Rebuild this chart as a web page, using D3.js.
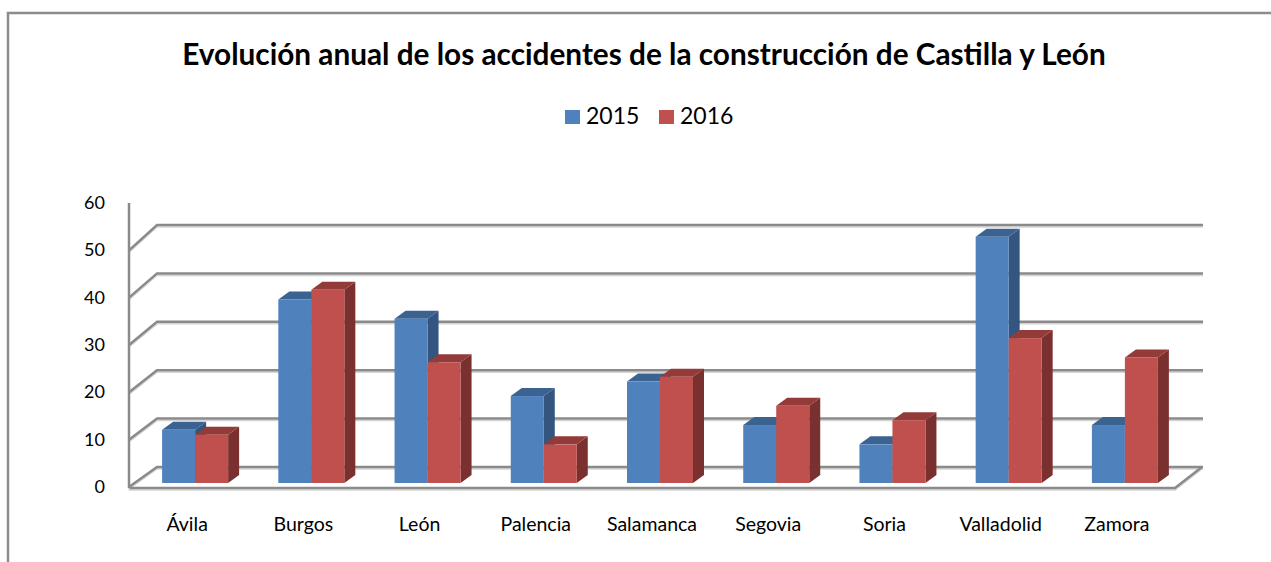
<!doctype html>
<html>
  <head>
    <meta charset="utf-8">
    <script src="https://cdn.jsdelivr.net/npm/d3@7/dist/d3.min.js"></script>
    <style>
      body {
          margin: 0;
          background: #fff;
          font-family: Lato, "Noto Sans", sans-serif;
      }
      .tick-label {
          font-size: 18px;
          fill: #000;
      }
      .cat-label {
          font-size: 19.5px;
          fill: #000;
      }
      .legend text {
          font-size: 23px;
      }
      .title {
          font-weight: bold;
          text-anchor: middle;
      }
    </style>
  </head>
  <body>
    <svg id="chart" width="1271" height="562"></svg>

    <script type="text/javascript">
        var provincias = ["Ávila", "Burgos", "León", "Palencia", "Salamanca", "Segovia", "Soria", "Valladolid", "Zamora"];
        var anios = ["2015", "2016"];
        var v2015 = [11, 38, 34, 18, 21, 12, 8, 51, 12];
        var v2016 = [10, 40, 25, 8, 22, 16, 13, 30, 26];
        var yTicks = [0, 10, 20, 30, 40, 50, 60];

        var svg = d3.select("#chart");

        // depth of the bars (fake 3d)
        var bdx = 11, bdy = -8;

        var x0 = d3.scaleBand().domain(provincias).range([129, 1175]);
        var x1 = d3.scaleBand().domain(anios).range([0, 66]);

        var yFront = d3.scaleLinear().domain([0, 60]).range([487, 203]);
        var yBack = d3.scaleLinear().domain([0, 50]).range([467, 225]);
        var yBar = d3.scaleLinear().domain([0, 60]).range([483, 483 - 6 * 48.3]);

        var colors = {
            "2015": {front: "#4f81bd", top: "#3b6392", side: "#33557f"},
            "2016": {front: "#c0504d", top: "#933b39", side: "#7a302e"}
        };

        // outer border (cropped chart area)
        svg.append("path")
            .attr("d", "M8,562 V13 H1271")
            .attr("fill", "none")
            .attr("stroke", "#8c8c8c")
            .attr("stroke-width", 2.5);

        // title
        var title = svg.append("text")
            .attr("class", "title")
            .attr("x", 644)
            .attr("y", 65)
            .style("font-size", "24px")
            .text("Evolución anual de los accidentes de la construcción de Castilla y León");
        var tw = title.node().getComputedTextLength();
        title.style("font-size", (24 * 924 / tw) + "px");

        // legend
        var legend = svg.append("g").attr("class", "legend");
        var legX = [565, 659];
        anios.forEach(function(a, i) {
            legend.append("rect")
                .attr("x", legX[i]).attr("y", 110)
                .attr("width", 15).attr("height", 14)
                .attr("fill", colors[a].front);
            legend.append("text")
                .attr("x", legX[i] + 21).attr("y", 124)
                .text(a);
        });

        // gridlines on back wall + left wall diagonals
        var grid = svg.append("g");
        var backTicks = yTicks.filter(function(t) { return t <= 50; });

        function gridLine(g, d) {
            g.append("path").attr("d", d)
                .attr("fill", "none").attr("stroke", "#d4d4d4").attr("stroke-width", 1.5)
                .attr("transform", "translate(0,2)");
            g.append("path").attr("d", d)
                .attr("fill", "none").attr("stroke", "#8a8a8a").attr("stroke-width", 2.5);
        }

        backTicks.forEach(function(t) {
            gridLine(grid, "M129," + yFront(t) + " L157," + yBack(t) + " H1203");
        });

        // floor: front edge and right diagonal
        gridLine(grid, "M129,488 H1175 L1202," + yBack(0));
        // left axis
        gridLine(grid, "M129,203 V488");

        // tick labels
        svg.append("g").selectAll("text")
            .data(yTicks)
            .enter().append("text")
            .attr("class", "tick-label")
            .attr("x", 105)
            .attr("y", function(d) { return yFront(d) + 6; })
            .attr("text-anchor", "end")
            .text(function(d) { return d; });

        // bars
        var bars = svg.append("g");
        provincias.forEach(function(p, i) {
            var vals = {"2015": v2015[i], "2016": v2016[i]};
            anios.forEach(function(a) {
                var x = x0(p) + x0.bandwidth() / 2 - 25 + x1(a);
                var w = x1.bandwidth();
                var y = yBar(vals[a]), b = yBar(0);
                var c = colors[a];
                bars.append("path")
                    .attr("d", "M" + (x + w) + "," + b + " L" + (x + w + bdx) + "," + (b + bdy) +
                        " V" + (y + bdy) + " L" + (x + w) + "," + y + "Z")
                    .attr("fill", c.side);
                bars.append("path")
                    .attr("d", "M" + x + "," + y + " L" + (x + bdx) + "," + (y + bdy) +
                        " H" + (x + w + bdx) + " L" + (x + w) + "," + y + "Z")
                    .attr("fill", c.top);
                bars.append("rect")
                    .attr("x", x).attr("y", y)
                    .attr("width", w).attr("height", b - y)
                    .attr("fill", c.front);
            });
        });

        // category labels
        svg.append("g").selectAll("text")
            .data(provincias)
            .enter().append("text")
            .attr("class", "cat-label")
            .attr("x", function(d) { return x0(d) + x0.bandwidth() / 2; })
            .attr("y", 531)
            .attr("text-anchor", "middle")
            .text(function(d) { return d; });
    </script>
  </body>
</html>
